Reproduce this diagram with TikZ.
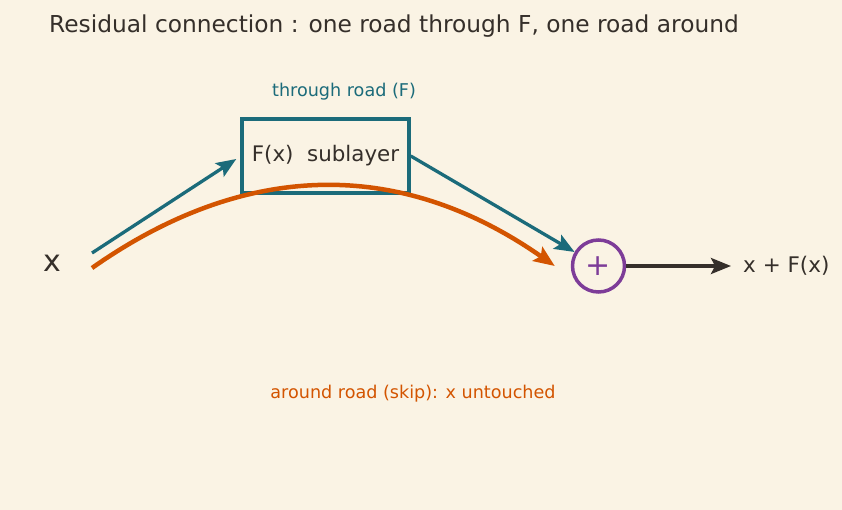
\documentclass[tikz,border=0pt]{standalone}
\usepackage{fontspec}
\setmainfont{DejaVu Sans}
\usetikzlibrary{positioning,arrows.meta}

\definecolor{paper}{HTML}{FAF3E4}
\definecolor{ink}{HTML}{352F2A}
\definecolor{teal}{HTML}{1B6B7A}
\definecolor{rust}{HTML}{D35400}
\definecolor{plum}{HTML}{7D3C98}

\begin{document}
\begin{tikzpicture}[x=1pt,y=-1pt,
    road/.style={line width=3.3pt, arrows={-Stealth[length=20pt,width=16pt,inset=4pt]}},
    lbl/.style={inner sep=0pt, font=\fontsize{17.6}{21}\selectfont}]
    % background, fixes the margins
    \fill[paper] (0,0) rectangle (842,510);
    \useasboundingbox (0,0) rectangle (842,510);

    \node[anchor=west, inner sep=0pt, text=ink, font=\fontsize{23.3}{27}\selectfont] (title) at (49,26)
        {Residual connection : one road through F, one road around};

    % nodes
    \node[text=ink, inner sep=0pt, font=\fontsize{30}{34}\selectfont] (x) at (52,263) {x};
    \node[draw=teal, line width=3.5pt, text=ink, minimum width=167pt, minimum height=74pt,
          font=\fontsize{21.4}{25}\selectfont] (sub) at (325.5,156) {F(x)\ \ sublayer};
    \node[lbl, text=teal] (thru) at (344,92) {through road (F)};
    \node[draw=plum, line width=3.5pt, circle, minimum size=52pt, inner sep=0pt, text=plum,
          font=\fontsize{30}{34}\selectfont] (add) at (598.5,266) {+};
    \node[anchor=west, inner sep=0pt, text=ink, font=\fontsize{21.5}{25}\selectfont] (out) at (743,266) {x + F(x)};
    \node[lbl, text=rust] (skiplbl) at (413,394) {around road (skip): x untouched};

    \coordinate (split) at (92,253);
    \coordinate (skip) at (92,268);

    % through road
    \draw[road, draw=teal] (split) -- ([shift={(-4,3)}]sub.west);
    \draw[road, draw=teal] (sub.east) -- (add);
    % around road
    \draw[draw=rust, line width=4.5pt, arrows={-Stealth[length=21pt,width=17pt,inset=4pt]}]
        (skip) .. controls (247,159) and (402,159) .. ([xshift=-16]add.west);
    % output
    \draw[road, draw=ink] (add) -- ([xshift=-12]out.west);
\end{tikzpicture}
\end{document}
